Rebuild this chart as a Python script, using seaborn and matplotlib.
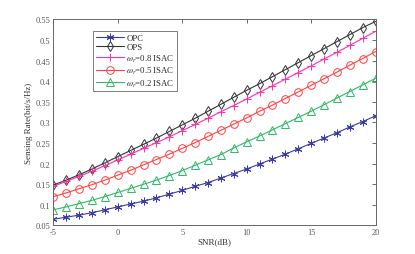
import numpy as np
import pandas as pd
import matplotlib
matplotlib.use("Agg")
import matplotlib.pyplot as plt
import seaborn as sns

snr = list(range(-5, 21))
opc = [0.065, 0.070, 0.075, 0.081, 0.088, 0.095, 0.102, 0.109, 0.117, 0.126, 0.135, 0.145, 0.154,
       0.165, 0.176, 0.187, 0.199, 0.211, 0.223, 0.236, 0.249, 0.262, 0.275, 0.289, 0.302, 0.316]
ops = [0.148, 0.160, 0.173, 0.187, 0.202, 0.217, 0.232, 0.247, 0.262, 0.278, 0.294, 0.310, 0.327,
       0.344, 0.361, 0.378, 0.394, 0.411, 0.428, 0.445, 0.462, 0.479, 0.496, 0.513, 0.530, 0.545]
isac08 = [0.145, 0.157, 0.169, 0.182, 0.195, 0.209, 0.223, 0.237, 0.251, 0.265, 0.280, 0.295, 0.310,
          0.326, 0.341, 0.357, 0.373, 0.389, 0.405, 0.421, 0.437, 0.454, 0.470, 0.487, 0.504, 0.521]
isac05 = [0.120, 0.129, 0.139, 0.149, 0.160, 0.172, 0.184, 0.197, 0.210, 0.223, 0.237, 0.251, 0.266,
          0.281, 0.296, 0.311, 0.327, 0.342, 0.358, 0.374, 0.390, 0.406, 0.422, 0.439, 0.455, 0.472]
isac02 = [0.088, 0.095, 0.103, 0.111, 0.120, 0.130, 0.140, 0.150, 0.160, 0.171, 0.183, 0.196, 0.209,
          0.222, 0.238, 0.253, 0.267, 0.282, 0.297, 0.312, 0.327, 0.343, 0.359, 0.375, 0.391, 0.407]
labels = ["OPC", "OPS", r"$\omega_r$=0.8 ISAC", r"$\omega_r$=0.5 ISAC", r"$\omega_r$=0.2 ISAC"]
xticks = [-5, 0, 5, 10, 15, 20]
yticks = [0.05, 0.1, 0.15, 0.2, 0.25, 0.3, 0.35, 0.4, 0.45, 0.5, 0.55]
ytick_labels = ["0.05", "0.1", "0.15", "0.2", "0.25", "0.3", "0.35", "0.4", "0.45", "0.5", "0.55"]

sns.set_style("white")
plt.rcParams["font.family"] = ["Liberation Serif", "DejaVu Serif"]
plt.rcParams["mathtext.fontset"] = "stix"

fig = plt.figure(figsize=(4.15, 2.55), dpi=100)
ax = fig.add_axes([0.1285, 0.112, 0.7765, 0.808])

series = [opc, ops, isac08, isac05, isac02]
colors = ["#3c3ca8", "#333333", "#ff2fa8", "#ff4040", "#2fb868"]
markers = [(6, 2, 0), "d", "+", "o", "^"]
msizes = [5.5, 5.2, 6, 5.5, 5.5]
for vals, lab, c, m, ms in zip(series, labels, colors, markers, msizes):
    df = pd.DataFrame({"SNR": snr, "rate": vals})
    sns.lineplot(data=df, x="SNR", y="rate", ax=ax, color=c, marker=m, markersize=ms,
                 markerfacecolor="none", markeredgecolor=c, markeredgewidth=0.7,
                 linewidth=0.8, label=lab)

ax.set_xlim(-5, 20)
ax.set_ylim(0.05, 0.55)
ax.set_xticks(xticks)
ax.set_yticks(yticks)
ax.set_xticklabels([str(t) for t in xticks])
ax.set_yticklabels(ytick_labels)
ax.tick_params(direction="in", length=3, width=0.6, labelsize=6, colors="#555555",
               top=True, right=True, pad=2)
for s in ax.spines.values():
    s.set_color("#666666")
    s.set_linewidth(0.7)
ax.set_xlabel("SNR(dB)", fontsize=6.5, color="#333333", labelpad=1)
ax.set_ylabel("Sensing Rate(bit/s/Hz)", fontsize=6.5, color="#333333", labelpad=2)

leg = ax.legend(loc="upper left", bbox_to_anchor=(0.11, 0.965), fontsize=6.3,
                handlelength=3.2, handletextpad=0.3, borderpad=0.3, labelspacing=0.15,
                frameon=True, fancybox=False, edgecolor="#444444")
leg.get_frame().set_linewidth(0.6)

fig.savefig("out.png", dpi=100)
